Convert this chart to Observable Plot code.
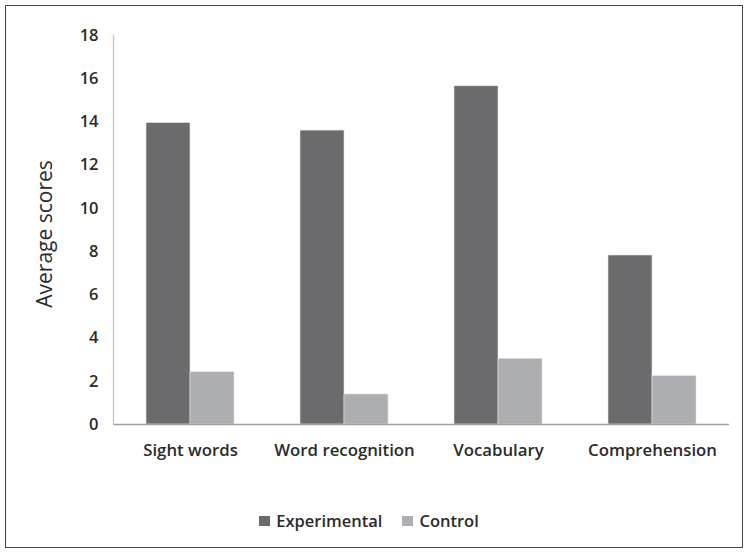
<!DOCTYPE html>
<html>
<head>
<meta charset="utf-8">
<script src="https://cdn.jsdelivr.net/npm/d3@7"></script>
<script src="https://cdn.jsdelivr.net/npm/@observablehq/plot@0.6"></script>
<style>
  html, body { margin: 0; padding: 0; background: #fff; }
  #box {
    position: absolute; left: 5px; top: 5px; width: 736px; height: 541px;
    border: 1px solid #444; background: #fff; box-sizing: content-box;
    font-family: "Open Sans", sans-serif;
  }
  #legend {
    position: absolute; left: 0; top: 503px; width: 736px;
    display: flex; justify-content: center; align-items: center; gap: 20px;
    font-family: "Open Sans", sans-serif; font-weight: 600; font-size: 16.5px; color: #2b2b2b;
    padding-right: 10px; box-sizing: border-box;
  }
  .item { display: flex; align-items: center; gap: 6px; }
  .sw { width: 11px; height: 10px; display: inline-block; }
</style>
</head>
<body>
<div id="box"><div id="chart"></div><div id="legend"></div></div>
<script>
const categories = ["Sight words", "Word recognition", "Vocabulary", "Comprehension"];
const seriesNames = ["Experimental", "Control"];
const experimental = [13.95, 13.6, 15.65, 7.82];
const control = [2.42, 1.39, 3.04, 2.24];
const colors = ["#6b6b6d", "#adaeb1"];
const yTicks = [0, 2, 4, 6, 8, 10, 12, 14, 16, 18];

const data = [];
categories.forEach((c, i) => {
  data.push({category: c, series: seriesNames[0], value: experimental[i]});
  data.push({category: c, series: seriesNames[1], value: control[i]});
});

const chart = Plot.plot({
  width: 736,
  height: 470,
  marginLeft: 107,
  marginRight: 13,
  marginTop: 29,
  marginBottom: 52,
  style: {fontFamily: "Open Sans, sans-serif", fontSize: "16px", fontWeight: 600, color: "#2b2b2b", background: "transparent"},
  fx: {domain: categories, padding: 0, label: null, axis: null},
  x: {domain: seriesNames, paddingInner: 0, paddingOuter: 0.75, axis: null},
  y: {domain: [0, 18], ticks: yTicks, label: null},
  color: {domain: seriesNames, range: colors},
  marks: [
    Plot.barY(data, {fx: "category", x: "series", y: "value", fill: "series", stroke: "#e4e4e4", strokeWidth: 0.6}),
    Plot.ruleY([0], {stroke: "#a0a0a0", strokeWidth: 1.3}),
    Plot.frame({anchor: "left", stroke: "#c4c4c4", strokeWidth: 1.3, facet: "super"}),
    Plot.axisFx({anchor: "bottom", domain: categories, tickSize: 0, tickPadding: 20, label: null, fontSize: 16.8, fill: "#2b2b2b"}),
    Plot.axisY({ticks: yTicks, tickSize: 0, tickPadding: 15, label: null, fontSize: 16.5, fill: "#2b2b2b"}),
    Plot.text(["Average scores"], {frameAnchor: "left", textAnchor: "middle", dx: -68, dy: 4, rotate: -90, fontSize: 21, fontWeight: 500, fill: "#2b2b2b", facet: "super"})
  ]
});
document.getElementById("chart").appendChild(chart);

const legend = document.getElementById("legend");
seriesNames.forEach((s, i) => {
  const it = document.createElement("div");
  it.className = "item";
  const sw = document.createElement("span");
  sw.className = "sw";
  sw.style.background = colors[i];
  const t = document.createElement("span");
  t.textContent = s;
  it.appendChild(sw); it.appendChild(t);
  legend.appendChild(it);
});
</script>
</body>
</html>
